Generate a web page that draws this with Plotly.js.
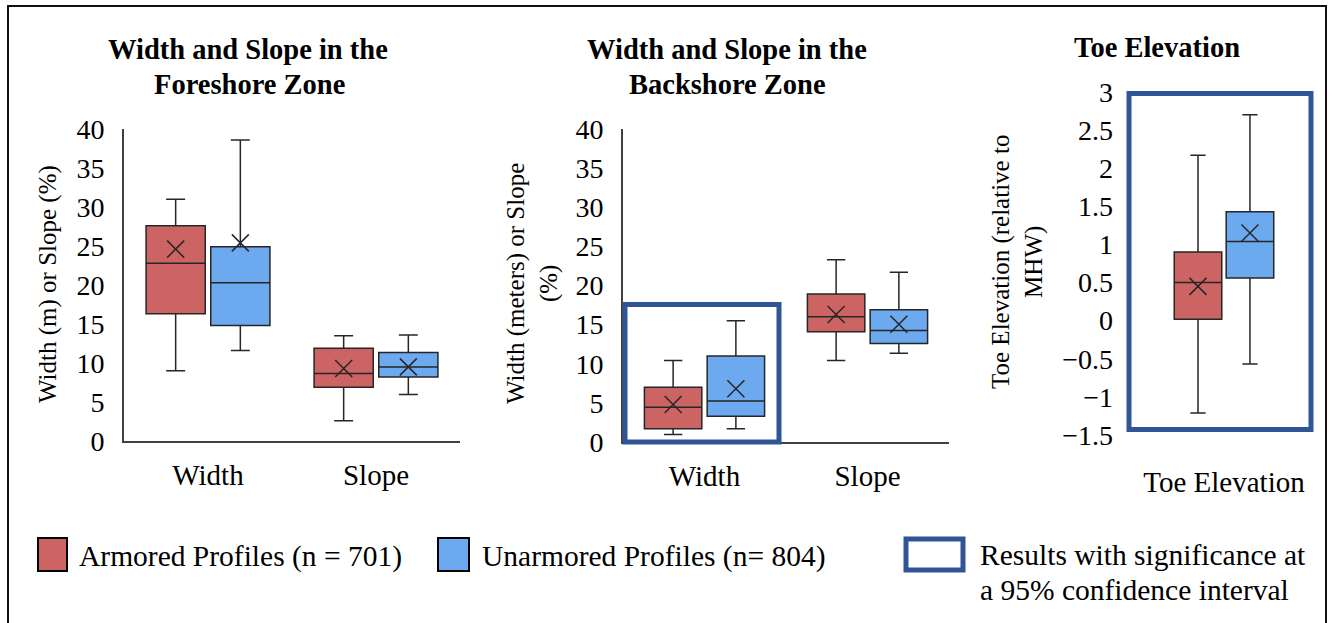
<!DOCTYPE html>
<html>
<head>
<meta charset="utf-8">
<script src="https://cdn.plot.ly/plotly-3.0.1.min.js"></script>
<style>html,body{margin:0;padding:0;background:#fff;}#chart{width:1335px;height:623px;}</style>
</head>
<body>
<div id="chart"></div>
<script>
// ---- data ----
const categories = ["Width", "Slope"];
const toeCategory = ["Toe Elevation"];

// Foreshore zone
const foreArmoredLower  = [9.0, 2.6];
const foreArmoredQ1     = [16.3, 6.9];
const foreArmoredMedian = [22.8, 8.65];
const foreArmoredQ3     = [27.6, 11.9];
const foreArmoredUpper  = [31.0, 13.5];
const foreArmoredMean   = [24.6, 9.3];

const foreUnarmoredLower  = [11.6, 5.95];
const foreUnarmoredQ1     = [14.8, 8.2];
const foreUnarmoredMedian = [20.3, 9.5];
const foreUnarmoredQ3     = [24.9, 11.35];
const foreUnarmoredUpper  = [38.6, 13.6];
const foreUnarmoredMean   = [25.4, 9.5];

// Backshore zone
const backArmoredLower  = [0.95, 10.4];
const backArmoredQ1     = [1.7, 14.1];
const backArmoredMedian = [4.45, 16.0];
const backArmoredQ3     = [7.0, 18.9];
const backArmoredUpper  = [10.4, 23.3];
const backArmoredMean   = [4.8, 16.3];

const backUnarmoredLower  = [1.7, 11.35];
const backUnarmoredQ1     = [3.3, 12.6];
const backUnarmoredMedian = [5.25, 14.25];
const backUnarmoredQ3     = [11.0, 16.9];
const backUnarmoredUpper  = [15.5, 21.7];
const backUnarmoredMean   = [6.8, 15.05];

// Toe elevation
const toeArmoredLower  = [-1.21];
const toeArmoredQ1     = [0.02];
const toeArmoredMedian = [0.5];
const toeArmoredQ3     = [0.9];
const toeArmoredUpper  = [2.17];
const toeArmoredMean   = [0.45];

const toeUnarmoredLower  = [-0.57];
const toeUnarmoredQ1     = [0.56];
const toeUnarmoredMedian = [1.04];
const toeUnarmoredQ3     = [1.43];
const toeUnarmoredUpper  = [2.70];
const toeUnarmoredMean   = [1.15];

const yTicksWidth = [0, 5, 10, 15, 20, 25, 30, 35, 40];
const yTicksToe = [-1.5, -1, -0.5, 0, 0.5, 1, 1.5, 2, 2.5, 3];

const seriesNames = ["Armored Profiles (n = 701)", "Unarmored Profiles (n= 804)"];
const sigLines = ["Results with significance at", "a 95% confidence interval"];

// ---- styles ----
var RED = "#CD6464", BLUE = "#6CA9EE", SIG = "#2F5597", EDGE = "#262626";
var SERIF = "Liberation Serif";
var W = 1335, H = 623;
function px(v) { return v / W; }
function py(v) { return (H - v) / H; }
function f(size) { return {family: SERIF, size: size, color: "#000000"}; }

function box(x, lo, q1, med, q3, hi, color, group, xa, ya, name) {
  return {
    type: "box", name: name, x: x, lowerfence: lo, q1: q1, median: med, q3: q3, upperfence: hi,
    fillcolor: color, line: {color: EDGE, width: 1.5}, whiskerwidth: 0.32,
    offsetgroup: group, xaxis: xa, yaxis: ya, showlegend: false, boxpoints: false, hoverinfo: "skip"
  };
}
function meanMark(x, m, group, xa, ya) {
  return {
    type: "scatter", mode: "markers", x: x, y: m, offsetgroup: group, xaxis: xa, yaxis: ya,
    marker: {symbol: "x-thin", size: 17, color: EDGE, line: {color: EDGE, width: 1.5}},
    showlegend: false, hoverinfo: "skip", cliponaxis: false
  };
}

var data = [
  box(categories, foreArmoredLower, foreArmoredQ1, foreArmoredMedian, foreArmoredQ3, foreArmoredUpper, RED, "A", "x", "y", seriesNames[0]),
  box(categories, foreUnarmoredLower, foreUnarmoredQ1, foreUnarmoredMedian, foreUnarmoredQ3, foreUnarmoredUpper, BLUE, "B", "x", "y", seriesNames[1]),
  meanMark(categories, foreArmoredMean, "A", "x", "y"),
  meanMark(categories, foreUnarmoredMean, "B", "x", "y"),

  box(categories, backArmoredLower, backArmoredQ1, backArmoredMedian, backArmoredQ3, backArmoredUpper, RED, "A", "x2", "y2", seriesNames[0]),
  box(categories, backUnarmoredLower, backUnarmoredQ1, backUnarmoredMedian, backUnarmoredQ3, backUnarmoredUpper, BLUE, "B", "x2", "y2", seriesNames[1]),
  meanMark(categories, backArmoredMean, "A", "x2", "y2"),
  meanMark(categories, backUnarmoredMean, "B", "x2", "y2"),

  box(toeCategory, toeArmoredLower, toeArmoredQ1, toeArmoredMedian, toeArmoredQ3, toeArmoredUpper, RED, "A", "x3", "y3", seriesNames[0]),
  box(toeCategory, toeUnarmoredLower, toeUnarmoredQ1, toeUnarmoredMedian, toeUnarmoredQ3, toeUnarmoredUpper, BLUE, "B", "x3", "y3", seriesNames[1]),
  meanMark(toeCategory, toeArmoredMean, "A", "x3", "y3"),
  meanMark(toeCategory, toeUnarmoredMean, "B", "x3", "y3")
];

function xax(domain, range, standoff, showline, anchor) {
  return {
    domain: domain, type: "category", range: range, anchor: anchor, fixedrange: true,
    showgrid: false, zeroline: false, showline: showline, linecolor: "#404040", linewidth: 2,
    ticks: "", tickfont: f(29), ticklabelstandoff: standoff
  };
}
function yax(domain, range, ticks, showline, anchor) {
  return {
    domain: domain, range: range, anchor: anchor, fixedrange: true,
    showgrid: false, zeroline: false, showline: showline, linecolor: "#404040", linewidth: 2,
    tickmode: "array", tickvals: ticks, ticks: "", tickfont: f(28), ticklabelstandoff: 12
  };
}
function label(text, x, y, size, extra) {
  return Object.assign({text: text, xref: "paper", yref: "paper", x: px(x), y: py(y),
    xanchor: "center", yanchor: "middle", showarrow: false, font: f(size)}, extra || {});
}

var layout = {
  width: W, height: H,
  margin: {l: 0, r: 0, t: 0, b: 0, pad: 0},
  paper_bgcolor: "#ffffff", plot_bgcolor: "rgba(0,0,0,0)",
  showlegend: false, hovermode: false,
  font: f(20),
  boxmode: "group", boxgap: 0.23, boxgroupgap: 0.085,
  scattermode: "group", scattergap: 0.23,
  xaxis: xax([px(124), px(460)], [-0.5, 1.5], 7, true, "y"),
  yaxis: yax([py(441), py(129)], [0, 40], yTicksWidth, true, "x"),
  xaxis2: xax([px(623), px(949)], [-0.5, 1.5], 7, true, "y2"),
  yaxis2: yax([py(442), py(129)], [0, 40], yTicksWidth, true, "x2"),
  xaxis3: xax([px(1126), px(1314)], [-0.726, 0.667], 27, false, "y3"),
  yaxis3: yax([py(435), py(92)], [-1.5, 3], yTicksToe, false, "x3"),
  shapes: [
    {type: "rect", xref: "paper", yref: "paper", x0: px(8), x1: px(1326), y0: py(640), y1: py(6),
     line: {color: "#111", width: 2}, fillcolor: "rgba(0,0,0,0)", layer: "below"},
    {type: "rect", xref: "paper", yref: "paper", x0: px(625), x1: px(779), y0: py(442), y1: py(304.5),
     line: {color: SIG, width: 5}},
    {type: "rect", xref: "paper", yref: "paper", x0: px(1129), x1: px(1311), y0: py(429.5), y1: py(93.5),
     line: {color: SIG, width: 5}},
    {type: "rect", xref: "paper", yref: "paper", x0: px(38), x1: px(67), y0: py(571), y1: py(538),
     fillcolor: RED, line: {color: "#000", width: 2}},
    {type: "rect", xref: "paper", yref: "paper", x0: px(438), x1: px(469), y0: py(571), y1: py(538),
     fillcolor: BLUE, line: {color: "#000", width: 2}},
    {type: "rect", xref: "paper", yref: "paper", x0: px(906), x1: px(963), y0: py(570), y1: py(539),
     fillcolor: "#fff", line: {color: SIG, width: 5}}
  ],
  annotations: [
    label("<b>Width and Slope in the</b>", 248, 50, 28.5),
    label("<b>Foreshore Zone</b>", 249, 84, 28.5),
    label("<b>Width and Slope in the</b>", 727, 50, 28.5),
    label("<b>Backshore Zone</b>", 727, 84, 28.5),
    label("<b>Toe Elevation</b>", 1157, 48, 28.5),
    label("Width (m) or Slope (%)", 48, 284, 25, {textangle: -90}),
    label("Width (meters) or Slope<br>(%)", 532, 284, 25, {textangle: -90}),
    label("Toe Elevation (relative to<br>MHW)", 1017, 262, 25, {textangle: -90}),
    label(seriesNames[0], 77, 556, 29.5, {xanchor: "left"}),
    label(seriesNames[1], 480, 556, 29.5, {xanchor: "left"}),
    label(sigLines[0], 978, 555, 29.5, {xanchor: "left"}),
    label(sigLines[1], 978, 590, 29.5, {xanchor: "left"})
  ]
};

Plotly.newPlot("chart", data, layout, {displayModeBar: false});
</script>
</body>
</html>
